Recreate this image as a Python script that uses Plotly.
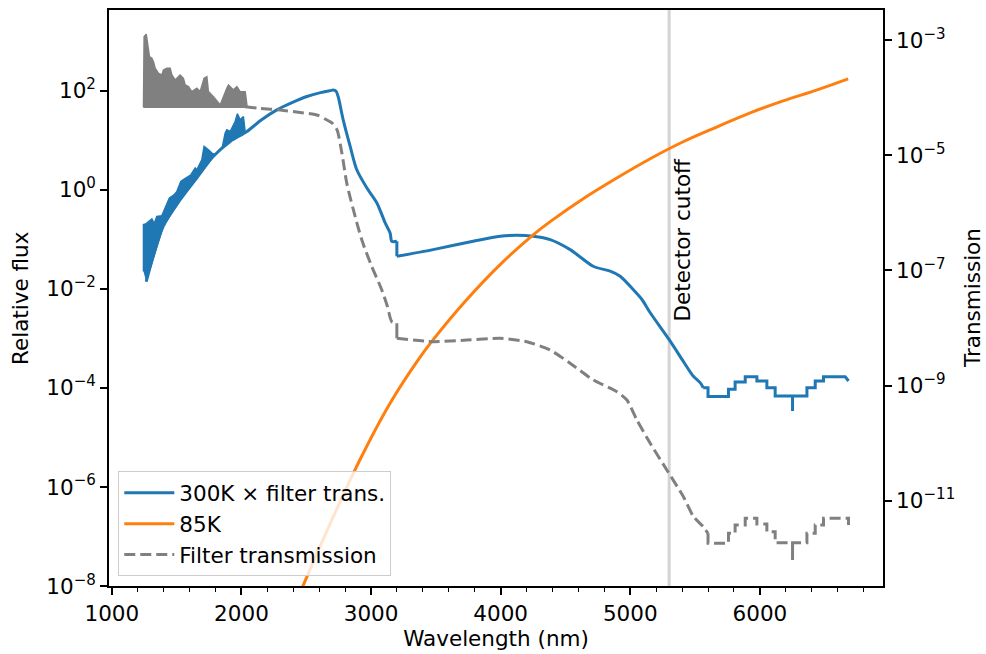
import plotly.graph_objects as go

# ---------------- data ----------------
# 300K x filter transmission (left axis): smooth short-wave part, smooth mid part, stepped tail
blue_a_x = [1265, 1396, 1527, 1656, 1782, 1913, 2042, 2150, 2273, 2390, 2505, 2610, 2684, 2708,
            2730, 2746, 2785, 2839, 2890, 2968, 3045, 3109, 3147, 3160, 3199]
blue_a_y = [0.0141, 0.184, 0.634, 1.76, 4.73, 9.5, 15.1, 25.5, 41.4, 58.0, 76.8, 92.0, 101,
            104, 98, 76.8, 26.0, 7.53, 2.55, 1.09, 0.545, 0.215, 0.135, 0.0916, 0.0916]
blue_step_x = [3199, 3199]
blue_step_y = [0.0916, 0.0456]
blue_b_x = [3199, 3479, 3788, 3996, 4125, 4251, 4382, 4536, 4714, 4845, 4922, 5022, 5090, 5154,
            5308, 5408, 5485, 5539, 5563]
blue_b_y = [0.0456, 0.0622, 0.0916, 0.1155, 0.121, 0.1155, 0.099, 0.0622, 0.0287, 0.0228,
            0.0180, 0.00973, 0.00611, 0.00330, 8.83e-4, 3.48e-4, 1.74e-4, 1.28e-4, 1.01e-4]
blue_c_x = [5563, 5600, 5600, 5758, 5758, 5809, 5809, 5887, 5887, 5977, 5977, 6054, 6054, 6118,
            6118, 6252, 6252, 6252, 6363, 6363, 6427, 6427, 6491, 6491, 6658, 6684]
blue_c_y = [1.01e-4, 1.01e-4, 6.68e-5, 6.68e-5, 9.38e-5, 9.38e-5, 1.32e-4, 1.32e-4, 1.69e-4,
            1.69e-4, 1.38e-4, 1.38e-4, 1.01e-4, 1.01e-4, 6.87e-5, 6.87e-5, 3.42e-5, 6.87e-5,
            6.87e-5, 1.01e-4, 1.01e-4, 1.38e-4, 1.38e-4, 1.69e-4, 1.69e-4, 1.38e-4]

# noisy short-wavelength band of the 300K x filter curve (outline of the band)
blue_noise_x = [1244, 1244, 1265, 1309, 1326, 1347, 1386, 1444, 1463, 1481, 1502, 1532, 1552,
                1591, 1610, 1643, 1656, 1694, 1712, 1745, 1772, 1797, 1850, 1874, 1887, 1913,
                1951, 1969, 1990, 2015, 2029, 2029, 1913, 1782, 1656, 1527, 1396, 1265]
blue_noise_y = [0.0224, 0.199, 0.208, 0.259, 0.208, 0.292, 0.302, 0.687, 0.740, 0.800, 0.933,
                1.48, 1.61, 1.87, 2.02, 2.77, 2.55, 4.06, 7.53, 6.46, 5.54, 5.2, 6.8, 14.0,
                16.4, 15.1, 24.0, 34.4, 26.0, 30.4, 14.5, 14.5, 9.5, 4.73, 1.76, 0.634,
                0.184, 0.0141]

# 85K curve (left axis)
orange_x = [2440, 2478, 2700, 2916, 3140, 3366, 3481, 3739, 3996, 4253, 4382, 4637, 4899, 5154,
            5408, 5671, 5925, 6180, 6442, 6681]
orange_y = [6e-9, 1.05e-8, 2.24e-7, 3.63e-6, 4.6e-5, 3.78e-4, 9.55e-4, 6.11e-3, 0.031, 0.125,
            0.2286, 0.665, 1.76, 4.26, 9.37, 18.8, 36.0, 62.8, 105, 175]

# filter transmission (right axis): smooth part, step, mid part and stepped tail
gray_a_x = [2029, 2144, 2299, 2453, 2582, 2659, 2700, 2736, 2775, 2813, 2864, 2929, 3006, 3083,
            3127, 3160, 3199]
gray_a_y = [6.95e-5, 6.52e-5, 6.09e-5, 5.5e-5, 4.99e-5, 4.09e-5, 3.6e-5, 2.8e-5, 1.08e-5,
            3.25e-6, 1.12e-6, 3.37e-7, 1.16e-7, 4.57e-8, 2.34e-8, 1.29e-8, 1.21e-8]
gray_step_x = [3199, 3199]
gray_step_y = [1.21e-8, 6.63e-9]
gray_b_x = [3199, 3481, 3739, 3996, 4202, 4382, 4536, 4716, 4897, 4974, 5051, 5154, 5282,
            5410, 5488, 5563, 5600]
gray_b_y = [6.63e-9, 5.78e-9, 6.19e-9, 6.63e-9, 5.78e-9, 4.15e-9, 2.44e-9, 1.25e-9,
            7.83e-10, 5.62e-10, 2.53e-10, 9.95e-11, 3.43e-11, 1.18e-11, 5.3e-12, 3.55e-12,
            2.73e-12]
gray_c_x = [5600, 5600, 5758, 5758, 5809, 5809, 5887, 5887, 5977, 5977, 6054, 6054, 6118, 6118,
            6252, 6252, 6252, 6363, 6363, 6427, 6427, 6491, 6491, 6684, 6684]
gray_c_y = [2.73e-12, 1.83e-12, 1.83e-12, 2.73e-12, 2.73e-12, 3.8e-12, 3.8e-12, 4.97e-12,
            4.97e-12, 3.95e-12, 3.95e-12, 2.91e-12, 2.91e-12, 1.87e-12, 1.87e-12, 9.38e-13,
            1.87e-12, 1.87e-12, 2.73e-12, 2.73e-12, 3.8e-12, 3.8e-12, 4.97e-12, 4.97e-12,
            3.8e-12]

# noisy short-wavelength band of the filter transmission (outline of the band)
gray_noise_x = [1244, 1249, 1265, 1275, 1290, 1309, 1321, 1334, 1360, 1386, 1398, 1424, 1450,
                1463, 1488, 1527, 1552, 1566, 1591, 1617, 1656, 1681, 1712, 1733, 1745, 1784,
                1836, 1887, 1900, 1938, 1965, 1990, 2029, 2042, 2042, 1244]
gray_noise_y = [6.8e-5, 1.14e-3, 1.26e-3, 9.34e-4, 5.13e-4, 4.81e-4, 4.20e-4, 3.23e-4, 2.64e-4,
                2.47e-4, 3.01e-4, 3.23e-4, 3.23e-4, 2.47e-4, 2.02e-4, 2.47e-4, 2.16e-4,
                1.66e-4, 1.55e-4, 1.27e-4, 1.45e-4, 1.27e-4, 2.16e-4, 2.31e-4, 1.27e-4,
                1.04e-4, 7.45e-5, 1.45e-4, 1.66e-4, 1.36e-4, 1.55e-4, 1.27e-4, 1.27e-4,
                7.45e-5, 6.8e-5, 6.8e-5]

cutoff_nm = 5300

x_ticks = [1000, 2000, 3000, 4000, 5000, 6000]
left_ticks = [1e-8, 1e-6, 1e-4, 1e-2, 1, 1e2]
left_labels = ["10<sup>−8</sup>", "10<sup>−6</sup>", "10<sup>−4</sup>", "10<sup>−2</sup>",
               "10<sup>0</sup>", "10<sup>2</sup>"]
right_ticks = [1e-11, 1e-9, 1e-7, 1e-5, 1e-3]
right_labels = ["10<sup>−11</sup>", "10<sup>−9</sup>", "10<sup>−7</sup>", "10<sup>−5</sup>",
                "10<sup>−3</sup>"]

BLUE = "#1f77b4"
ORANGE = "#ff7f0e"
GRAY = "#808080"
FONT = "DejaVu Sans"
FS = 21.5
DASH = "11px,5px"

fig = go.Figure()

fig.add_trace(go.Scatter(x=gray_noise_x, y=gray_noise_y, yaxis="y2", mode="lines",
                         fill="toself", fillcolor=GRAY, line=dict(color=GRAY, width=1.5),
                         showlegend=False, hoverinfo="skip"))
fig.add_trace(go.Scatter(x=blue_noise_x, y=blue_noise_y, mode="lines",
                         fill="toself", fillcolor=BLUE, line=dict(color=BLUE, width=1.5),
                         showlegend=False, hoverinfo="skip"))
fig.add_trace(go.Scatter(x=blue_a_x, y=blue_a_y, mode="lines", name="300K × filter trans.",
                         legendgroup="blue", legendrank=1,
                         line=dict(color=BLUE, width=3, shape="spline", smoothing=0.8)))
fig.add_trace(go.Scatter(x=blue_step_x, y=blue_step_y, mode="lines", legendgroup="blue",
                         showlegend=False, line=dict(color=BLUE, width=3)))
fig.add_trace(go.Scatter(x=blue_b_x, y=blue_b_y, mode="lines", legendgroup="blue",
                         showlegend=False,
                         line=dict(color=BLUE, width=3, shape="spline", smoothing=0.8)))
fig.add_trace(go.Scatter(x=blue_c_x, y=blue_c_y, mode="lines", legendgroup="blue",
                         showlegend=False, line=dict(color=BLUE, width=3)))
fig.add_trace(go.Scatter(x=orange_x, y=orange_y, mode="lines", name="85K", legendrank=2,
                         line=dict(color=ORANGE, width=3, shape="spline", smoothing=1.0)))
fig.add_trace(go.Scatter(x=gray_a_x, y=gray_a_y, yaxis="y2", mode="lines",
                         name="Filter transmission", legendgroup="gray", legendrank=3,
                         line=dict(color=GRAY, width=3, dash=DASH, shape="spline",
                                   smoothing=0.8)))
fig.add_trace(go.Scatter(x=gray_step_x, y=gray_step_y, yaxis="y2", mode="lines",
                         legendgroup="gray", showlegend=False,
                         line=dict(color=GRAY, width=3)))
fig.add_trace(go.Scatter(x=gray_b_x, y=gray_b_y, yaxis="y2", mode="lines", legendgroup="gray",
                         showlegend=False,
                         line=dict(color=GRAY, width=3, dash=DASH, shape="spline",
                                   smoothing=0.6)))
fig.add_trace(go.Scatter(x=gray_c_x, y=gray_c_y, yaxis="y2", mode="lines", legendgroup="gray",
                         showlegend=False, line=dict(color=GRAY, width=3, dash=DASH)))

fig.add_shape(type="line", xref="x", yref="paper", x0=cutoff_nm, x1=cutoff_nm, y0=0, y1=1,
              line=dict(color="#d3d3d3", width=3), layer="below")
fig.add_annotation(x=cutoff_nm, xref="x", y=0.456, yref="paper", text="Detector cutoff",
                   textangle=-90, showarrow=False, xanchor="center", yanchor="bottom",
                   xshift=13, font=dict(family=FONT, size=FS, color="black"))
# axis titles of the two y axes
fig.add_annotation(x=0, xref="paper", y=0.5, yref="paper", text="Relative flux",
                   textangle=-90, showarrow=False, xanchor="center", yanchor="middle",
                   xshift=-89, font=dict(family=FONT, size=FS, color="black"))
fig.add_annotation(x=1, xref="paper", y=0.5, yref="paper", text="Transmission",
                   textangle=-90, showarrow=False, xanchor="center", yanchor="middle",
                   xshift=89, font=dict(family=FONT, size=FS, color="black"))

axis_common = dict(showline=True, linecolor="black", linewidth=1.6, ticks="outside",
                   ticklen=7, tickwidth=1.6, tickcolor="black", showgrid=False,
                   zeroline=False, automargin=False,
                   tickfont=dict(family=FONT, size=FS, color="black"))

fig.update_layout(
    width=986, height=654,
    margin=dict(l=109, r=103, t=10, b=68),
    paper_bgcolor="white", plot_bgcolor="white",
    font=dict(family=FONT, size=FS, color="black"),
    xaxis=dict(range=[978, 6950], tickvals=x_ticks, mirror=True,
               minor=dict(ticks="outside", ticklen=4, tickwidth=1.2, tickcolor="black",
                          dtick=200, tick0=1000),
               title=dict(text="Wavelength (nm)", standoff=4,
                          font=dict(family=FONT, size=FS, color="black")),
               **axis_common),
    yaxis=dict(type="log", range=[-8, 3.633], tickvals=left_ticks, ticktext=left_labels,
               **axis_common),
    yaxis2=dict(type="log", range=[-12.479, -2.479], overlaying="y", side="right",
                tickvals=right_ticks, ticktext=right_labels, **axis_common),
    legend=dict(x=0.012, y=0.017, xanchor="left", yanchor="bottom",
                bgcolor="rgba(255,255,255,0.8)", bordercolor="#cccccc", borderwidth=1,
                font=dict(family=FONT, size=FS, color="black"), itemwidth=50,
                traceorder="normal", tracegroupgap=0),
    showlegend=True,
)

fig.write_html("out.html")
